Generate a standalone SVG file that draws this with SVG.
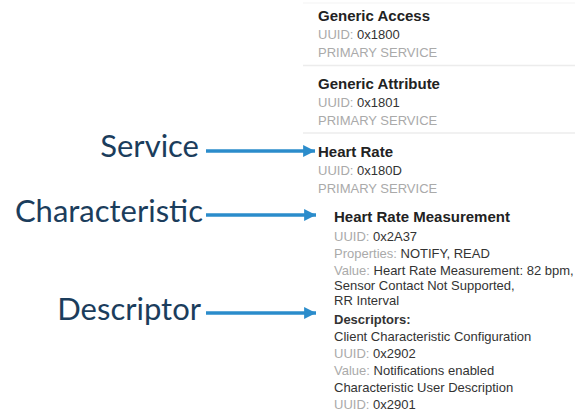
<svg xmlns="http://www.w3.org/2000/svg" width="575" height="416" viewBox="0 0 575 416">
<style>
.lbl{font-family:Lato,"Liberation Sans",sans-serif;font-size:31px;fill:#1b3d5c;text-anchor:end}
.t{font-family:"Liberation Sans",Arial,sans-serif;font-size:15px;font-weight:bold;fill:#222}
.s{font-family:"Liberation Sans",Arial,sans-serif;font-size:13px;fill:#333}
.g{fill:#aaa}
.b{font-weight:bold}
.sep{stroke:#ececec;stroke-width:1.5}
.arr{stroke:#2b8ccb;stroke-width:3.5;fill:none;marker-end:url(#ah)}
</style>
<defs>
<marker id="ah" markerWidth="4" markerHeight="4" refX="3.4" refY="2" orient="auto" markerUnits="strokeWidth">
<path d="M0,0.3 L3.4,2 L0,3.7 Z" fill="#2b8ccb"/>
</marker>
</defs>
<rect width="575" height="416" fill="#fff"/>
<line class="sep" x1="303" y1="3" x2="575" y2="3" style="stroke:#f7f7f7"/>
<line class="sep" x1="303" y1="65.5" x2="575" y2="65.5"/>
<line class="sep" x1="303" y1="133" x2="575" y2="133"/>
<g id="label-service"><text class="lbl" x="199" y="157">Service</text></g>
<g id="label-characteristic"><text class="lbl" x="203" y="222">Characteristic</text></g>
<g id="label-descriptor"><text class="lbl" x="201" y="320">Descriptor</text></g>
<g id="svc-generic-access">
<text class="t" x="318" y="21">Generic Access</text>
<text class="s" x="318" y="39"><tspan class="g">UUID:</tspan> 0x1800</text>
<text class="s g" x="318" y="57">PRIMARY SERVICE</text>
</g>
<g id="svc-generic-attribute">
<text class="t" x="318" y="89">Generic Attribute</text>
<text class="s" x="318" y="107"><tspan class="g">UUID:</tspan> 0x1801</text>
<text class="s g" x="318" y="125">PRIMARY SERVICE</text>
</g>
<g id="svc-heart-rate">
<text class="t" x="318" y="157">Heart Rate</text>
<text class="s" x="318" y="175"><tspan class="g">UUID:</tspan> 0x180D</text>
<text class="s g" x="318" y="193">PRIMARY SERVICE</text>
</g>
<g id="char-hrm">
<text class="t" x="334" y="222">Heart Rate Measurement</text>
<text class="s" x="334" y="241"><tspan class="g">UUID:</tspan> 0x2A37</text>
<text class="s" x="334" y="258"><tspan class="g">Properties:</tspan> NOTIFY, READ</text>
<text class="s" x="334" y="275"><tspan class="g">Value:</tspan> Heart Rate Measurement: 82 bpm,</text>
<text class="s" x="334" y="290">Sensor Contact Not Supported,</text>
<text class="s" x="334" y="305">RR Interval</text>
</g>
<g id="descriptors">
<text class="s b" x="334" y="324">Descriptors:</text>
<text class="s" x="334" y="341">Client Characteristic Configuration</text>
<text class="s" x="334" y="358"><tspan class="g">UUID:</tspan> 0x2902</text>
<text class="s" x="334" y="375"><tspan class="g">Value:</tspan> Notifications enabled</text>
<text class="s" x="334" y="392">Characteristic User Description</text>
<text class="s" x="334" y="409"><tspan class="g">UUID:</tspan> 0x2901</text>
</g>
<g id="connectors">
<line class="arr" x1="206" y1="151" x2="315" y2="151"/>
<line class="arr" x1="206" y1="215" x2="316" y2="215"/>
<line class="arr" x1="206" y1="313" x2="316" y2="313"/>
</g>
</svg>
